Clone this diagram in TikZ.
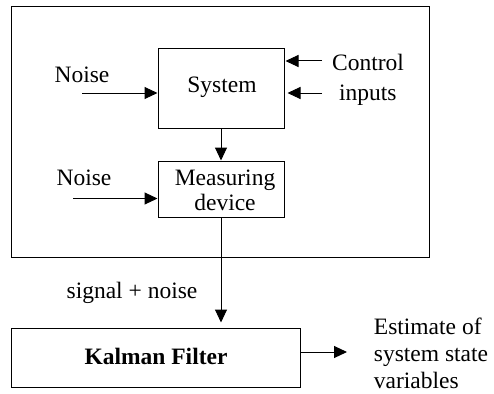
\documentclass[tikz,border=0pt]{standalone}
\usepackage{fontspec}
\setmainfont{Liberation Serif}
\usetikzlibrary{arrows.meta}
\begin{document}
\begin{tikzpicture}[x=1pt,y=-1pt,
  every node/.style={font=\fontsize{23.5}{28}\selectfont, inner sep=0pt},
  blk/.style={draw, line width=1pt},
  conn/.style={line width=1pt, -{Triangle[length=13pt,width=12pt]}}]
\useasboundingbox (0,0) rectangle (494,393);
\node[blk, minimum width=418, minimum height=250] (outer) at (220,132) {};
\node[blk, minimum width=126, minimum height=79] (sys) at (221,88.5) {};
\node at (222,87) (systxt) {System};
\node[blk, minimum width=126, minimum height=56] (meas) at (221,189) {};
\node[align=center, font=\fontsize{23.5}{25}\selectfont] (meastxt) at (225,190) {Measuring\\device};
\node[blk, minimum width=289, minimum height=59] (kal) at (155.5,357.5) {};
\node (kaltxt) at (156,356) {\bfseries Kalman Filter};
\node (n1) at (82,75) {Noise};
\node (n2) at (84,178) {Noise};
\node[align=left, font=\fontsize{23.5}{30}\selectfont] (ctrl) at (368,80) {Control\\\hspace*{7pt}inputs};
\node (sig) at (132,293) {signal + noise};
\node[align=left, font=\fontsize{23.5}{27}\selectfont] (est) at (431,353) {Estimate of\\system state\\variables};
\coordinate (a1) at (82,93);
\coordinate (a2) at (73,198.5);
\coordinate (c1) at (322,61);
\coordinate (c2) at (322,93);
\coordinate (e) at (347,352);
\draw[conn] (a1) -- (a1 -| sys.west);
\draw[conn] (a2) -- (a2 -| meas.west);
\draw[conn] (c1) -- ([xshift=1pt]c1 -| sys.east);
\draw[conn] (c2) -- ([xshift=3pt]c2 -| sys.east);
\draw[conn] (sys.south) -- (meas.north);
\draw[conn, shorten >=5pt] (meas.south) -- (meas.south |- kal.north);
\draw[conn] (e -| kal.east) -- (e);
\end{tikzpicture}
\end{document}
